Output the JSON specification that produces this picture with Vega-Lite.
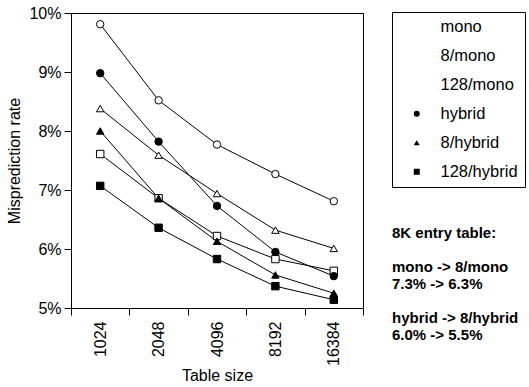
{
  "$schema": "https://vega.github.io/schema/vega-lite/v6.json",
  "autosize": {"type": "none"},
  "padding": {"left": 71, "top": 13, "right": 166, "bottom": 79},
  "width": 292,
  "height": 295,
  "title": {
    "text": ["8K entry table:", "\u200b", "mono -> 8/mono", "7.3% -> 6.3%", "\u200b", "hybrid -> 8/hybrid", "6.0% -> 5.5%"],
    "orient": "top",
    "anchor": "start",
    "frame": "group",
    "offset": 0,
    "dx": 321,
    "dy": 338,
    "baseline": "top",
    "align": "left",
    "font": "Liberation Sans",
    "fontSize": 15,
    "fontWeight": "bold",
    "lineHeight": 17,
    "color": "black"
  },
  "data": {
    "values": [
      {"size": "1024", "series": "mono", "rate": 0.0981},
      {"size": "2048", "series": "mono", "rate": 0.0852},
      {"size": "4096", "series": "mono", "rate": 0.0777},
      {"size": "8192", "series": "mono", "rate": 0.0727},
      {"size": "16384", "series": "mono", "rate": 0.0681},
      {"size": "1024", "series": "8/mono", "rate": 0.0838},
      {"size": "2048", "series": "8/mono", "rate": 0.0759},
      {"size": "4096", "series": "8/mono", "rate": 0.0694},
      {"size": "8192", "series": "8/mono", "rate": 0.0632},
      {"size": "16384", "series": "8/mono", "rate": 0.0601},
      {"size": "1024", "series": "128/mono", "rate": 0.0761},
      {"size": "2048", "series": "128/mono", "rate": 0.0686},
      {"size": "4096", "series": "128/mono", "rate": 0.0622},
      {"size": "8192", "series": "128/mono", "rate": 0.0583},
      {"size": "16384", "series": "128/mono", "rate": 0.0563},
      {"size": "1024", "series": "hybrid", "rate": 0.0898},
      {"size": "2048", "series": "hybrid", "rate": 0.0782},
      {"size": "4096", "series": "hybrid", "rate": 0.0673},
      {"size": "8192", "series": "hybrid", "rate": 0.0595},
      {"size": "16384", "series": "hybrid", "rate": 0.0554},
      {"size": "1024", "series": "8/hybrid", "rate": 0.0800},
      {"size": "2048", "series": "8/hybrid", "rate": 0.0686},
      {"size": "4096", "series": "8/hybrid", "rate": 0.0613},
      {"size": "8192", "series": "8/hybrid", "rate": 0.0556},
      {"size": "16384", "series": "8/hybrid", "rate": 0.0525},
      {"size": "1024", "series": "128/hybrid", "rate": 0.0707},
      {"size": "2048", "series": "128/hybrid", "rate": 0.0636},
      {"size": "4096", "series": "128/hybrid", "rate": 0.0583},
      {"size": "8192", "series": "128/hybrid", "rate": 0.0537},
      {"size": "16384", "series": "128/hybrid", "rate": 0.0514}
    ]
  },
  "encoding": {
    "x": {
      "field": "size",
      "type": "ordinal",
      "sort": ["1024", "2048", "4096", "8192", "16384"],
      "scale": {"type": "band", "paddingInner": 0, "paddingOuter": 0},
      "axis": {
        "title": "Table size",
        "tickBand": "extent",
        "labelAngle": -90,
        "tickSize": 7,
        "labelPadding": 6,
        "titlePadding": 2
      }
    },
    "y": {
      "field": "rate",
      "type": "quantitative",
      "scale": {"domain": [0.05, 0.10], "nice": false, "zero": false},
      "axis": {
        "title": "Misprediction rate",
        "values": [0.05, 0.06, 0.07, 0.08, 0.09, 0.10],
        "format": ".0%",
        "tickSize": 7,
        "labelPadding": 3,
        "titlePadding": 6
      }
    }
  },
  "layer": [
    {
      "mark": {"type": "line", "color": "black", "strokeWidth": 1},
      "encoding": {"detail": {"field": "series"}}
    },
    {
      "mark": {"type": "point", "filled": true, "stroke": "black", "strokeWidth": 1, "opacity": 1, "size": 55},
      "encoding": {
        "shape": {
          "field": "series",
          "type": "nominal",
          "scale": {
            "domain": ["mono", "8/mono", "128/mono", "hybrid", "8/hybrid", "128/hybrid"],
            "range": ["circle", "triangle-up", "square", "circle", "triangle-up", "square"]
          },
          "legend": {
            "title": null,
            "orient": "none",
            "legendX": 321,
            "legendY": -1,
            "padding": 6.5,
            "strokeColor": "black",
            "symbolSize": 36,
            "symbolOffset": 10,
            "labelOffset": 15.5,
            "rowPadding": 12,
            "labelFontSize": 16.5,
            "labelColor": "black",
            "symbolStrokeColor": "black",
            "symbolStrokeWidth": 1
          }
        },
        "fill": {
          "field": "series",
          "type": "nominal",
          "scale": {
            "domain": ["mono", "8/mono", "128/mono", "hybrid", "8/hybrid", "128/hybrid"],
            "range": ["white", "white", "white", "black", "black", "black"]
          },
          "legend": null
        }
      }
    }
  ],
  "config": {
    "font": "Liberation Sans",
    "view": {"stroke": "black", "strokeWidth": 1},
    "axis": {
      "grid": false,
      "domainColor": "black",
      "tickColor": "black",
      "labelColor": "black",
      "titleColor": "black",
      "labelFontSize": 16,
      "titleFontSize": 16,
      "titleFontWeight": "normal",
      "labelFont": "Liberation Sans",
      "titleFont": "Liberation Sans"
    },
    "legend": {"labelFont": "Liberation Sans"}
  }
}
